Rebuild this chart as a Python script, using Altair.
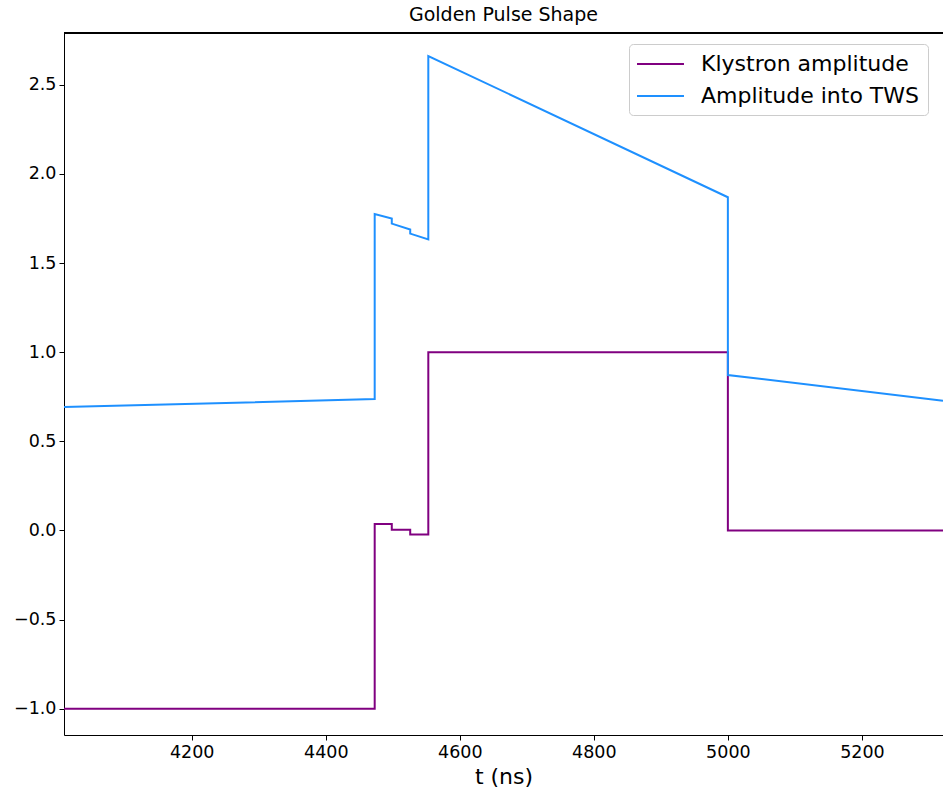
import altair as alt
import pandas as pd

# Pulse time base (ns): each edge appears twice so the steps are vertical
t_ns = [4009, 4473, 4473, 4498.5, 4498.5, 4526, 4526, 4553, 4553, 5000, 5000, 5321]

# Drive amplitude of the klystron
klystron_amp = [-1.0, -1.0, 0.037, 0.037, 0.004, 0.004, -0.022, -0.022, 1.0, 1.0, 0.0, 0.0]

# Amplitude reaching the travelling-wave structure
tws_amp = [0.692, 0.737, 1.775, 1.749, 1.721, 1.688, 1.665, 1.632, 2.661, 1.869, 0.872, 0.727]

series_names = ["Klystron amplitude", "Amplitude into TWS"]
series_colors = ["#800080", "#1E90FF"]

x_ticks = [4200, 4400, 4600, 4800, 5000, 5200]
y_ticks = [-1.0, -0.5, 0.0, 0.5, 1.0, 1.5, 2.0, 2.5]

rows = []
for name, values in zip(series_names, [klystron_amp, tws_amp]):
    for i, (t, a) in enumerate(zip(t_ns, values)):
        rows.append({"t": t, "amp": a, "series": name, "idx": i})
df = pd.DataFrame(rows)

FONT = "DejaVu Sans"
W, H = 879, 702

lines = alt.Chart(df).mark_line(strokeWidth=2, clip=True).encode(
    x=alt.X(
        "t:Q",
        scale=alt.Scale(domain=[4009.4, 5321], nice=False, zero=False),
        axis=alt.Axis(
            title="t (ns)",
            values=x_ticks,
            format="d",
            grid=False,
            tickSize=5,
            tickColor="black",
            domainColor="black",
            labelColor="black",
            labelFont=FONT,
            labelFontSize=17.5,
            labelPadding=3,
            titleFont=FONT,
            titleFontSize=22,
            titleFontWeight="normal",
            titleColor="black",
            titlePadding=6,
        ),
    ),
    y=alt.Y(
        "amp:Q",
        scale=alt.Scale(domain=[-1.147, 2.79], nice=False, zero=False),
        axis=alt.Axis(
            title=None,
            values=y_ticks,
            format=".1f",
            grid=False,
            tickSize=5,
            tickColor="black",
            domainColor="black",
            labelColor="black",
            labelFont=FONT,
            labelFontSize=17.5,
            labelPadding=3,
        ),
    ),
    color=alt.Color(
        "series:N",
        scale=alt.Scale(domain=series_names, range=series_colors),
        sort=series_names,
        legend=alt.Legend(
            title=None,
            orient="none",
            legendX=565,
            legendY=11,
            # wide horizontal line sample, shifted right of the symbol slot
            symbolType="M-1.09,0L3.18,0",
            symbolSize=484,
            symbolStrokeWidth=2,
            labelFontSize=22,
            labelFont=FONT,
            labelColor="black",
            labelLimit=400,
            labelOffset=40,
            rowPadding=9,
            padding=8,
            strokeColor="#cccccc",
            fillColor="white",
            cornerRadius=4,
        ),
    ),
    order="idx:Q",
)

# top frame line of the plot area
top_spine = alt.Chart(df).mark_rule(color="black", strokeWidth=1).encode(
    x=alt.value(0), x2=alt.value(W), y=alt.value(0)
)

chart = (
    alt.layer(lines, top_spine)
    .properties(
        width=W,
        height=H,
        title=alt.TitleParams(
            "Golden Pulse Shape",
            font=FONT,
            fontSize=19,
            fontWeight="normal",
            color="black",
            anchor="middle",
            offset=8,
        ),
        padding={"left": 64, "top": 33, "right": 0, "bottom": 56},
        autosize=alt.AutoSizeParams(type="none"),
    )
    .configure_view(stroke=None)
    .configure(font=FONT, background="white")
)

chart.save("out.html", embed_options={"renderer": "svg", "actions": False})
